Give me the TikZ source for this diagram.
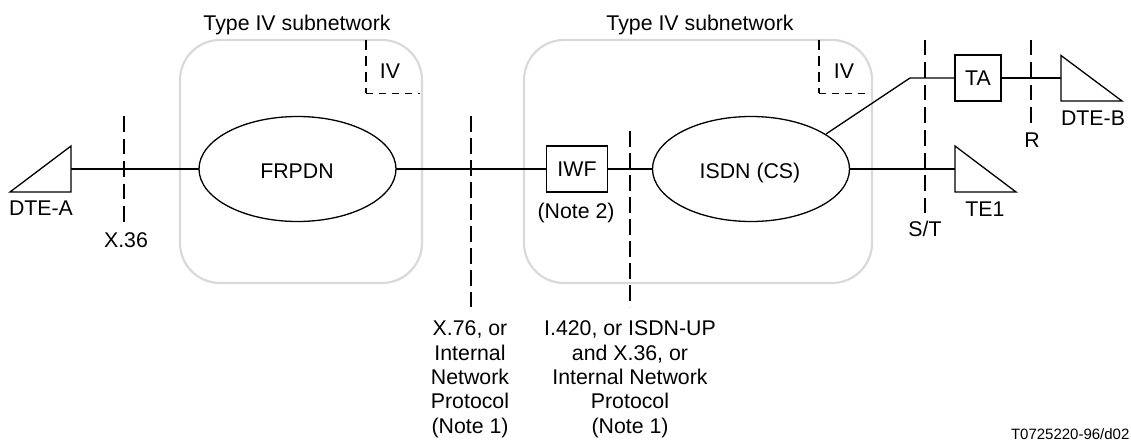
\documentclass[tikz,border=0pt]{standalone}
\usepackage{fontspec}
\setmainfont{Liberation Sans}
\usetikzlibrary{shapes.geometric}
\tikzset{
  x=1pt,y=-1pt,
  every node/.style={inner sep=0pt,outer sep=0pt},
  net/.style={draw=black!15,line width=2.2pt,rounded corners=40pt},
  wire/.style={draw=black,line width=1.7pt},
  thin wire/.style={draw=black,line width=1.3pt},
  boundary/.style={draw=black,line width=1.7pt,dash pattern=on 15.5pt off #1},
  boundary/.default=7pt,
  cornerv/.style={draw=black,line width=1.5pt,dash pattern=on 10pt off 6pt},
  cornerh/.style={draw=black,line width=1.5pt,dash pattern=on 7pt off 6pt},
  cloud/.style={ellipse,draw=black,line width=1.3pt,fill=white,minimum width=197pt,minimum height=105pt},
  unit/.style={rectangle,draw=black,line width=1.3pt,fill=white},
  term/.style={draw=black,line width=1.3pt,fill=white,line join=miter},
  lab/.style={font=\fontsize{21.3}{24.4}\selectfont,align=center,text depth=0pt},
  small/.style={font=\fontsize{15}{18}\selectfont,anchor=west},
}
\begin{document}
\begin{tikzpicture}
\useasboundingbox (0,0) rectangle (1131,441);
% subnetworks
\draw[net] (180,40) rectangle (422,283);
\draw[net] (524,40) rectangle (872,283);
\node[lab] (t1) at (297,23) {Type IV subnetwork};
\node[lab] (t2) at (700,23) {Type IV subnetwork};
% coordinates
\coordinate (a1) at (366,40); \coordinate (a2) at (366,93.5); \coordinate (a3) at (420,93.5);
\coordinate (b1) at (819,40); \coordinate (b2) at (819,93.5); \coordinate (b3) at (871,93.5);
\coordinate (x1) at (124,116); \coordinate (x2) at (124,222);
\coordinate (m1) at (471,116); \coordinate (m2) at (471,307);
\coordinate (i1) at (630,131); \coordinate (i2) at (630,307);
\coordinate (s1) at (925,40); \coordinate (s2) at (925,215);
\coordinate (r1) at (1031,40); \coordinate (r2) at (1031,124);
\coordinate (bend) at (910,78);
\coordinate (dtea) at (71,169);
\coordinate (te1) at (955,169);
\coordinate (dteb) at (1061,78);
\coordinate (isdnout) at (826,134);
% nodes
\node[cloud] (frpdn) at (297.5,169) {};
\node[cloud] (isdn) at (751,169) {};
\node[unit,minimum width=61pt,minimum height=46pt] (iwf) at (577,169) {};
\node[unit,minimum width=46pt,minimum height=46pt] (ta) at (978,78) {};
% connectors
\draw[wire] (dtea) -- (frpdn.west);
\draw[wire] (frpdn.east) -- (iwf.west);
\draw[wire] (iwf.east) -- (isdn.west);
\draw[wire] (isdn.east) -- (te1);
\draw[thin wire] (isdnout) -- (bend) -- (ta.west);
\draw[thin wire] (ta.east) -- (dteb);
% terminals
\draw[term] (10,192) -- (71,146) -- (71,192) -- cycle;
\draw[term] (955,146) -- (955,192) -- (1016,192) -- cycle;
\draw[term] (1061,55.5) -- (1061,101) -- (1122,101) -- cycle;
% boundaries
\draw[cornerv] (a1) -- (a2);
\draw[cornerh] (a2) -- (a3);
\draw[cornerv] (b1) -- (b2);
\draw[cornerh] (b2) -- (b3);
\draw[boundary] (x1) -- (x2);
\draw[boundary=6.5pt] (m1) -- (m2);
\draw[boundary=6.5pt] (i1) -- (i2);
\draw[boundary] (s1) -- (s2);
\draw[boundary] (r1) -- (r2);
% labels
\node[lab] (l0) at (297,171) {FRPDN};
\node[lab] (l1) at (750,171) {ISDN (CS)};
\node[lab] (l2) at (577,169) {IWF};
\node[lab] (l3) at (978,78) {TA};
\node[lab] (l4) at (390,71) {IV};
\node[lab] (l5) at (844,71) {IV};
\node[lab] (l6) at (41,208) {DTE-A};
\node[lab] (l7) at (126,240) {X.36};
\node[lab] (l8) at (576,211) {(Note 2)};
\node[lab] (l9) at (925,229) {S/T};
\node[lab] (l10) at (985,209) {TE1};
\node[lab] (l11) at (1032,140) {R};
\node[lab] (l12) at (1093,118) {DTE-B};
\node[lab] (l13) at (470,377) {X.76, or\\Internal\\Network\\Protocol\\(Note 1)};
\node[lab] (l14) at (630,377) {I.420, or ISDN-UP\\and X.36, or\\Internal Network\\Protocol\\(Note 1)};
\node[small] (l15) at (1011,434) {T0725220-96/d02};
\end{tikzpicture}
\end{document}
